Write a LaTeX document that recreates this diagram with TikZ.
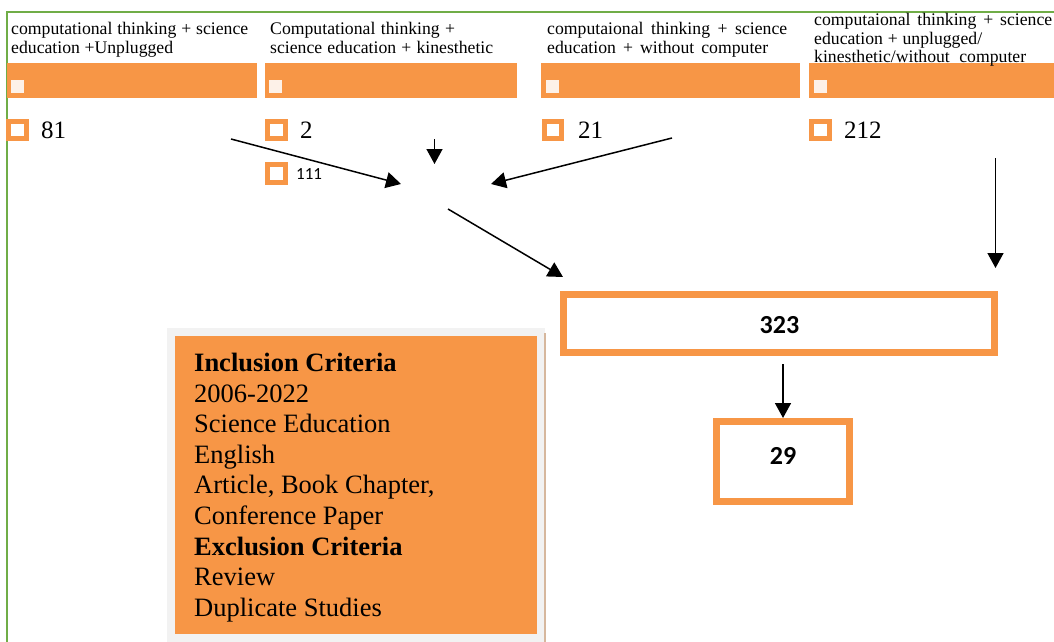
\documentclass[tikz,border=0pt]{standalone}
\usepackage{fontspec}
\setmainfont{Liberation Serif}
\newfontfamily\carlito{Carlito}
\usetikzlibrary{arrows.meta}
\definecolor{orng}{HTML}{F79646}
\definecolor{grn}{HTML}{70AD47}
\definecolor{lgrey}{HTML}{F2F2F2}
\definecolor{edgebrown}{HTML}{D6B79D}
\definecolor{barsq}{HTML}{FDF1E8}
\begin{document}
\begin{tikzpicture}[x=1pt,y=-1pt,
  hdr/.style={anchor=base west, inner sep=0pt, font=\fontsize{17.7}{18}\selectfont},
  cnt/.style={draw=orng, line width=5pt, fill=white, minimum size=17.5pt, inner sep=0pt},
  num/.style={anchor=base west, inner sep=0pt, font=\fontsize{25}{30}\selectfont},
  small/.style={anchor=base west, inner sep=0pt, font=\carlito\fontsize{17}{18}\selectfont},
  resbox/.style={draw=orng, line width=7pt, fill=white, inner sep=0pt},
  restext/.style={anchor=base, inner sep=0pt, font=\carlito\bfseries\fontsize{26}{30}\selectfont},
  crittext/.style={anchor=north west, inner sep=0pt, align=left, font=\fontsize{26.5}{30.6}\selectfont},
  arr/.style={line width=1.5pt, -{Triangle[length=15pt,width=16pt]}}]
\useasboundingbox (0,0) rectangle (1054,642);
\clip (0,0) rectangle (1054,642);

% green frame
\draw[grn, line width=1.5pt] (7,660) -- (7,12) -- (1070,12);

% header texts
\node[hdr] (h1a) at (11,35) {\makebox[237pt][s]{computational thinking + science}};
\node[hdr] (h1b) at (11,53) {\makebox[162pt][s]{education  +Unplugged}};
\node[hdr] (h2a) at (270,35) {\makebox[185pt][s]{Computational thinking +}};
\node[hdr] (h2b) at (270,53) {\makebox[223pt][s]{science education + kinesthetic}};
\node[hdr] (h3a) at (547,35) {\makebox[240pt][s]{computaional thinking + science}};
\node[hdr] (h3b) at (547,53) {\makebox[221pt][s]{education + without computer}};
\node[hdr] (h4a) at (814,26) {\makebox[238pt][s]{computaional thinking + science}};
\node[hdr] (h4b) at (814,45) {\makebox[168pt][s]{education + unplugged/}};

% orange bars
\fill[orng] (7,63) rectangle (257,98);
\fill[orng] (265,63) rectangle (517,98);
\fill[orng] (541,63) rectangle (800,98);
\fill[orng] (809,63) rectangle (1060,98);
\node[hdr] (h4c) at (814,63) {\makebox[212pt][s]{kinesthetic/without computer}};
\fill[barsq] (11,80) rectangle (24,93);
\fill[barsq] (269,80) rectangle (282,93);
\fill[barsq] (546,80) rectangle (559,93);
\fill[barsq] (814,80) rectangle (827,93);

% counts
\node[cnt] (s81) at (17.5,130) {};
\node[num] (n81) at (41,138.3) {81};
\node[cnt] (s2) at (276.5,130) {};
\node[num] (n2) at (300,138.3) {2};
\node[cnt] (s111) at (276.5,173.5) {};
\node[small] (n111) at (296,179) {111};
\node[cnt] (s21) at (553,130) {};
\node[num] (n21) at (578,138.3) {21};
\node[cnt] (s212) at (820.5,130) {};
\node[num] (n212) at (844,138.3) {212};

% arrows (free ends)
\coordinate (a1s) at (231,139);
\coordinate (a1e) at (401,184);
\coordinate (a2s) at (434.5,139);
\coordinate (a2e) at (434.5,164);
\coordinate (a3s) at (672,138);
\coordinate (a3e) at (491,184);
\coordinate (a4s) at (448,209);
\coordinate (a4e) at (563,277);
\coordinate (a5s) at (995.5,158);
\coordinate (a5e) at (995.5,268);
\draw[arr] (a1s) -- (a1e);
\draw[arr] (a2s) -- (a2e);
\draw[arr] (a3s) -- (a3e);
\draw[arr] (a4s) -- (a4e);
\draw[arr] (a5s) -- (a5e);

% result boxes
\node[resbox, minimum width=431pt, minimum height=58pt] (b323) at (779,323.5) {};
\node[restext] (t323) at (779.5,333) {323};
\node[resbox, minimum width=133pt, minimum height=80pt] (b29) at (783,461.5) {};
\node[restext] (t29) at (783,464) {29};
\draw[arr] ([yshift=-8pt]b29.north |- b323.south) -- (b29.north);

% criteria box
\fill[lgrey] (167,328) rectangle (545,660);
\draw[edgebrown, line width=2pt] (545,333) -- (545,660);
\fill[orng] (175,336) rectangle (537,634);
\node[crittext] (crit) at (194,353) {\textbf{Inclusion Criteria}\\2006-2022\\Science Education\\English\\Article, Book Chapter,\\Conference Paper\\\textbf{Exclusion Criteria}\\Review\\Duplicate Studies};
\end{tikzpicture}
\end{document}
